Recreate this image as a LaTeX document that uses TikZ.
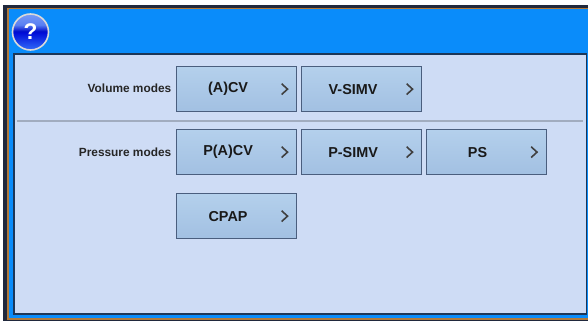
\documentclass[tikz,border=0pt]{standalone}
\usepackage{fontspec}
\setmainfont{Liberation Sans}
\definecolor{tbar}{HTML}{0A8CFA}
\definecolor{panel}{HTML}{CEDCF5}
\definecolor{dk}{HTML}{20283C}
\definecolor{org}{HTML}{B07A3C}
\definecolor{btnT}{HTML}{B4D0EC}
\definecolor{btnB}{HTML}{A2C0E2}
\definecolor{btnE}{HTML}{4A5E7E}
\pgfdeclareverticalshading{helpball}{100bp}{
 rgb(0bp)=(0.45,0.62,1);
 rgb(30bp)=(0.15,0.35,0.95);
 rgb(49bp)=(0,0.05,0.85);
 rgb(51bp)=(0,0.05,0.8);
 rgb(60bp)=(0.35,0.5,0.95);
 rgb(100bp)=(0.65,0.78,1)}
\tikzset{x=0.75pt,y=-0.75pt,
 modebtn/.style={rectangle,draw=btnE,line width=0.9pt,top color=btnT,bottom color=btnB,minimum width=90pt,minimum height=33.8pt,inner sep=0pt,anchor=north west},
 modetxt/.style={font=\fontsize{10.8pt}{11pt}\selectfont\bfseries,text=black!90,inner sep=0pt},
 lbl/.style={font=\fontsize{8.9pt}{10pt}\selectfont\bfseries,text=black!85,inner sep=0pt,anchor=east},
 chev/.style={draw=black!75,line width=1.2pt,line join=miter}}
\newcommand{\modebutton}[4]{%
 \node[modebtn] (#1) at (#2,#3) {};
 \node[modetxt] (#1t) at ([xshift=-6.4pt]#1.center) {#4};
 \coordinate (#1c) at ([xshift=36pt]#1.center);
 \draw[chev] ([xshift=-2.2pt,yshift=4pt]#1c) -- ([xshift=2.2pt]#1c) -- ([xshift=-2.2pt,yshift=-4pt]#1c);}
\begin{document}
\begin{tikzpicture}
\useasboundingbox (0,0) rectangle (588,321);
\fill[white] (0,0) rectangle (588,321);
\fill[dk] (3,5) rectangle (588,321);
\fill[org] (7,8) rectangle (588,320);
\fill[tbar] (9,9.5) rectangle (588,318);
\fill[dk!85!tbar] (13,53) rectangle (587,315);
\fill[panel] (14.5,55.5) rectangle (585.5,313);
% help icon
\node[circle,draw=white!85!black,line width=1.2pt,minimum size=27pt,inner sep=0pt,shading=helpball] (help) at (30.5,32) {};
\node[font=\fontsize{17pt}{17pt}\selectfont\bfseries,text=white,inner sep=0pt] (q) at (30.5,32) {?};
% separator
\draw[black!22!panel,line width=0.9pt] (17,121) -- (583,121);
\node[lbl] (vm) at (171.5,88.5) {Volume modes};
\node[lbl] (pm) at (171.5,152) {Pressure modes};
\modebutton{a}{176}{66}{(A)CV}
\modebutton{b}{301}{66}{V-SIMV}
\modebutton{c}{176}{129}{P(A)CV}
\modebutton{d}{301}{129}{P-SIMV}
\modebutton{e}{425.5}{129}{PS}
\modebutton{f}{176}{193}{CPAP}
\end{tikzpicture}
\end{document}
